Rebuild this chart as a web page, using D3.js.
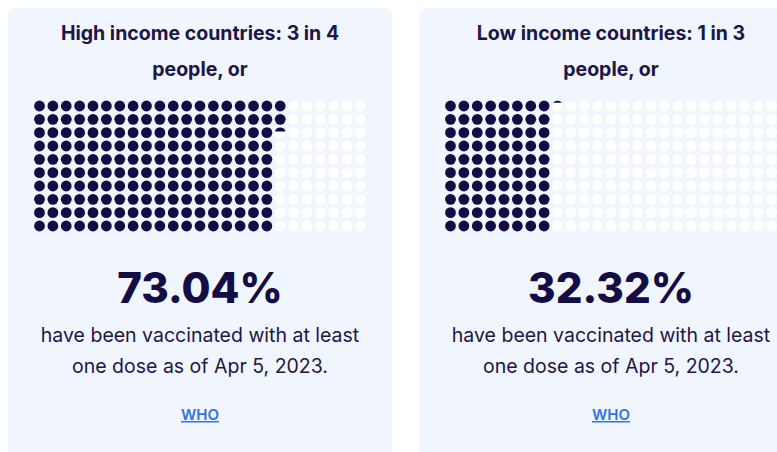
<!DOCTYPE html>
<html>
<head>
<meta charset="utf-8">
<script src="https://cdn.jsdelivr.net/npm/d3@7"></script>
<style>
  html, body { margin: 0; padding: 0; background: #ffffff; }
  svg { display: block; font-family: Inter, "Noto Sans", sans-serif; }
</style>
</head>
<body>
<svg id="chart" width="777" height="452"></svg>
<script>
// values
var groups = ['High income countries', 'Low income countries'];
var ratioLabels = ['3 in 4', '1 in 3'];
var shares = [73.04, 32.32];
var asOfDate = 'Apr 5, 2023';
var sourceLabel = 'WHO';

var cols = 25, rows = 10;
var totalDots = cols * rows;

var cardWidth = 384, cardHeight = 470, cardGap = 27;
var margin = { top: 8, left: 8 };
var dotRadius = 5.4;
var navy = '#140c45';
var ink = '#1d1647';
var cardFill = '#f0f5fe';

var svg = d3.select('#chart');

var cardX = d3.scaleBand()
  .domain(d3.range(groups.length))
  .range([margin.left, margin.left + groups.length * cardWidth + (groups.length - 1) * cardGap])
  .paddingInner(cardGap / (cardWidth + cardGap));

var colScale = d3.scalePoint().domain(d3.range(cols)).range([31.5, 352.5]);
var rowScale = d3.scalePoint().domain(d3.range(rows)).range([98, 218]);

var fmtPct = d3.format('.2f');

function wrap(textSel, maxWidth, lineHeight) {
  textSel.each(function () {
    var text = d3.select(this);
    var words = text.text().split(/\s+/);
    var x = text.attr('x');
    text.text(null);
    var line = [];
    var tspan = text.append('tspan').attr('x', x).attr('dy', 0);
    words.forEach(function (w) {
      line.push(w);
      tspan.text(line.join(' '));
      if (tspan.node().getComputedTextLength() > maxWidth && line.length > 1) {
        line.pop();
        tspan.text(line.join(' '));
        line = [w];
        tspan = text.append('tspan').attr('x', x).attr('dy', lineHeight).text(w);
      }
    });
  });
}

var defs = svg.append('defs');

var cards = svg.selectAll('.card')
  .data(groups)
  .enter()
  .append('g')
  .attr('class', 'card')
  .attr('transform', function (d, i) { return 'translate(' + cardX(i) + ',' + margin.top + ')'; });

cards.append('rect')
  .attr('width', cardWidth)
  .attr('height', cardHeight)
  .attr('rx', 8)
  .attr('fill', cardFill);

cards.append('text')
  .attr('x', cardWidth / 2)
  .attr('y', 32)
  .attr('text-anchor', 'middle')
  .attr('font-size', 19.5)
  .attr('font-weight', 700)
  .attr('fill', ink)
  .text(function (d, i) { return d + ': ' + ratioLabels[i] + ' people, or'; })
  .call(wrap, 305, 36);

cards.each(function (d, i) {
  var g = d3.select(this);
  var filled = shares[i] / 100 * totalDots;
  var full = Math.floor(filled);
  var frac = filled - full;

  var dots = d3.range(totalDots).map(function (k) {
    return { k: k, col: Math.floor(k / rows), row: k % rows };
  });

  g.selectAll('.dot')
    .data(dots)
    .enter()
    .append('circle')
    .attr('class', 'dot')
    .attr('cx', function (p) { return colScale(p.col); })
    .attr('cy', function (p) { return rowScale(p.row); })
    .attr('r', dotRadius)
    .attr('fill', function (p) { return p.k < full ? navy : '#ffffff'; });

  // the partly filled dot only shows a cap at its top
  if (frac > 0) {
    var p = dots[full];
    var clipId = 'cap-' + i;
    var capH = (1 - frac) * dotRadius * 2;
    defs.append('clipPath')
      .attr('id', clipId)
      .append('rect')
      .attr('x', colScale(p.col) - dotRadius)
      .attr('y', rowScale(p.row) - dotRadius)
      .attr('width', dotRadius * 2)
      .attr('height', capH);
    g.append('circle')
      .attr('cx', colScale(p.col))
      .attr('cy', rowScale(p.row))
      .attr('r', dotRadius)
      .attr('fill', navy)
      .attr('clip-path', 'url(#' + clipId + ')');
  }
});

cards.append('text')
  .attr('x', cardWidth / 2)
  .attr('y', 295)
  .attr('text-anchor', 'middle')
  .attr('font-size', 42)
  .attr('font-weight', 800)
  .attr('fill', navy)
  .text(function (d, i) { return fmtPct(shares[i]) + '%'; });

cards.append('text')
  .attr('x', cardWidth / 2)
  .attr('y', 334)
  .attr('text-anchor', 'middle')
  .attr('font-size', 19.5)
  .attr('fill', ink)
  .text('have been vaccinated with at least one dose as of ' + asOfDate + '.')
  .call(wrap, 340, 31);

cards.append('text')
  .attr('x', cardWidth / 2)
  .attr('y', 412)
  .attr('text-anchor', 'middle')
  .attr('font-size', 15)
  .attr('font-weight', 600)
  .attr('fill', '#2f74e6')
  .attr('text-decoration', 'underline')
  .text(sourceLabel);
</script>
</body>
</html>
